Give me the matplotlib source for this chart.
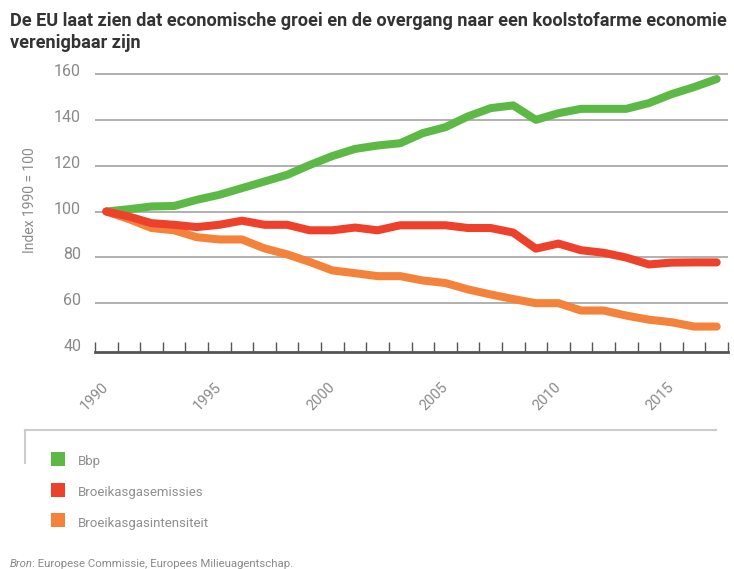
import matplotlib
matplotlib.use('Agg')
import matplotlib.pyplot as plt
from matplotlib.patches import Rectangle
from matplotlib.lines import Line2D
import matplotlib.transforms as mtransforms

# data (index 1990 = 100)
years = list(range(1990, 2018))
bbp = [100, 101, 102.2, 102.4, 105.1, 107.3, 110.2, 113.1, 116, 120.3,
       124.2, 127.3, 128.8, 129.8, 134.2, 136.8, 141.5, 145.1, 146.3, 140,
       142.9, 144.8, 144.8, 144.8, 147.3, 151.2, 154.3, 157.8]
emissies = [100, 97.8, 94.9, 94.2, 93.2, 94.2, 96, 94.2, 94.2, 91.8,
            91.8, 93, 91.8, 94, 94, 94, 92.8, 92.8, 90.8, 83.8,
            86, 83.1, 82, 79.9, 76.9, 77.7, 77.8, 77.8]
intensiteit = [100, 96.7, 92.8, 91.8, 88.8, 87.8, 87.8, 83.9, 81.3, 78,
               74.3, 73.1, 71.8, 71.8, 69.9, 68.8, 66, 63.8, 61.8, 60,
               60, 56.8, 56.8, 54.6, 52.8, 51.7, 49.8, 49.8]
series_names = ['Bbp', 'Broeikasgasemissies', 'Broeikasgasintensiteit']
series_colors = ['#5db946', '#ee412b', '#f5823a']
ytick_vals = [40, 60, 80, 100, 120, 140, 160]
xtick_years = [1990, 1995, 2000, 2005, 2010, 2015]

title = ('De EU laat zien dat economische groei en de overgang naar een koolstofarme economie\n'
         'verenigbaar zijn')

plt.rcParams['font.family'] = ['Roboto', 'DejaVu Sans']

W, H = 734, 569
fig = plt.figure(figsize=(W / 100, H / 100), dpi=100)

def fx(px):
    return px / W

def fy(py):
    return 1 - py / H

ax = fig.add_axes([fx(95), fy(352), fx(728) - fx(95), fy(71.7) - fy(352)])
ax.set_xlim(1989.5, 2017.5)
ax.set_ylim(38.7, 161)

for vals, col in [(bbp, series_colors[0]), (intensiteit, series_colors[2]), (emissies, series_colors[1])]:
    ax.plot(years, vals, color=col, lw=5.8, solid_capstyle='round', solid_joinstyle='round', zorder=3)

for v in ytick_vals[1:]:
    ax.axhline(v, color='#a3a3a3', lw=1.2, zorder=1)

for s in ['top', 'right', 'left']:
    ax.spines[s].set_visible(False)
ax.spines['bottom'].set_color('#555555')
ax.spines['bottom'].set_linewidth(2)

ax.set_yticks(ytick_vals)
ax.set_yticklabels([str(v) for v in ytick_vals])
ax.tick_params(axis='y', length=0, pad=10, labelsize=11.5, labelcolor='#8a8a8a')
up = mtransforms.ScaledTranslation(0, 4 / 100, fig.dpi_scale_trans)
for lab in ax.get_yticklabels():
    lab.set_transform(lab.get_transform() + up)

ax.set_xticks(xtick_years)
ax.set_xticklabels([str(y) for y in xtick_years], rotation=45, ha='right', va='center',
                   rotation_mode='anchor')
ax.tick_params(axis='x', which='major', length=0, pad=24, labelsize=10.5, labelcolor='#8a8a8a')
ax.set_xticks([y - 0.5 for y in years] + [2017.5], minor=True)
ax.tick_params(axis='x', which='minor', direction='in', length=7, width=1, color='#555555')

fig.text(fx(30), fy(200), 'Index 1990 = 100', fontsize=10, color='#8a8a8a',
         rotation=90, ha='center', va='center')

fig.text(fx(10), fy(32), title, fontsize=13.1, fontweight='bold', color='#333333',
         va='center', ha='left', linespacing=1.3)

# legend box
fig.add_artist(Line2D([fx(25), fx(716)], [fy(430), fy(430)], color='#cccccc', lw=1.5))
fig.add_artist(Line2D([fx(25), fx(25)], [fy(430), fy(463)], color='#cccccc', lw=1.5))
for i, (name, col) in enumerate(zip(series_names, series_colors)):
    yc = 459 + i * 30.5
    fig.add_artist(Rectangle((fx(51), fy(yc + 7)), fx(14), fy(yc - 7) - fy(yc + 7),
                             facecolor=col, edgecolor='none'))
    fig.text(fx(78), fy(yc + 3), name, fontsize=9.5, color='#8f8f8f', va='center', ha='left')

# source line: italic "Bron" followed by the rest
src1 = fig.text(fx(10), fy(564), 'Bron', fontsize=8.2, style='italic', color='#8a8a8a',
                va='center', ha='left')
renderer = fig.canvas.get_renderer()
bb = src1.get_window_extent(renderer)
fig.text((bb.x1 - 1) / W, fy(564), ': Europese Commissie, Europees Milieuagentschap.',
         fontsize=8.2, color='#8a8a8a', va='center', ha='left')

fig.savefig('out.png', dpi=100)
